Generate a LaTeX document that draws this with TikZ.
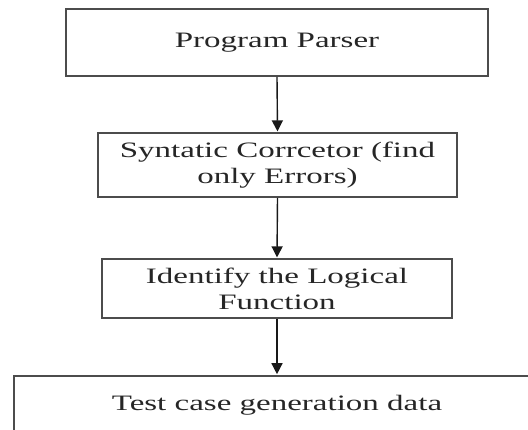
\documentclass[tikz,border=0pt]{standalone}
\usepackage{fontspec}
\setmainfont{Liberation Serif}[FakeStretch=1.5]
\usetikzlibrary{arrows.meta}
\begin{document}
\begin{tikzpicture}[x=1pt,y=1pt,
  box/.style={draw=black!70, line width=1.6pt, fill=white, inner sep=0pt,
    align=center, text=black!85, font=\fontsize{22}{26}\selectfont},
  flow/.style={-{Triangle[width=11pt,length=11pt]}, line width=1.4pt, draw=black!90, shorten >=0.8pt}]
  \useasboundingbox (0,0) rectangle (528,-430);
  \clip (0,0) rectangle (528,-430);
  \fill[white] (0,0) rectangle (528,-430);

  \node[box, minimum width=422pt, minimum height=67pt] (parser) at (277,-42.5) {Program Parser};
  \node[box, minimum width=359pt, minimum height=64pt] (syntax) at (277.5,-165) {Syntatic Corrcetor (find\\only Errors)};
  \node[box, minimum width=350pt, minimum height=59pt] (logic) at (277,-288.5) {Identify the Logical\\Function};
  \node[box, minimum width=526pt, text height=35pt, text depth=45pt, anchor=north] (testdata) at (277,-375) {Test case generation data};

  \draw[flow] (parser.south) -- (syntax.north);
  \draw[flow] (syntax.south) -- (logic.north);
  \draw[flow] (logic.south) -- (testdata.north);
\end{tikzpicture}
\end{document}
